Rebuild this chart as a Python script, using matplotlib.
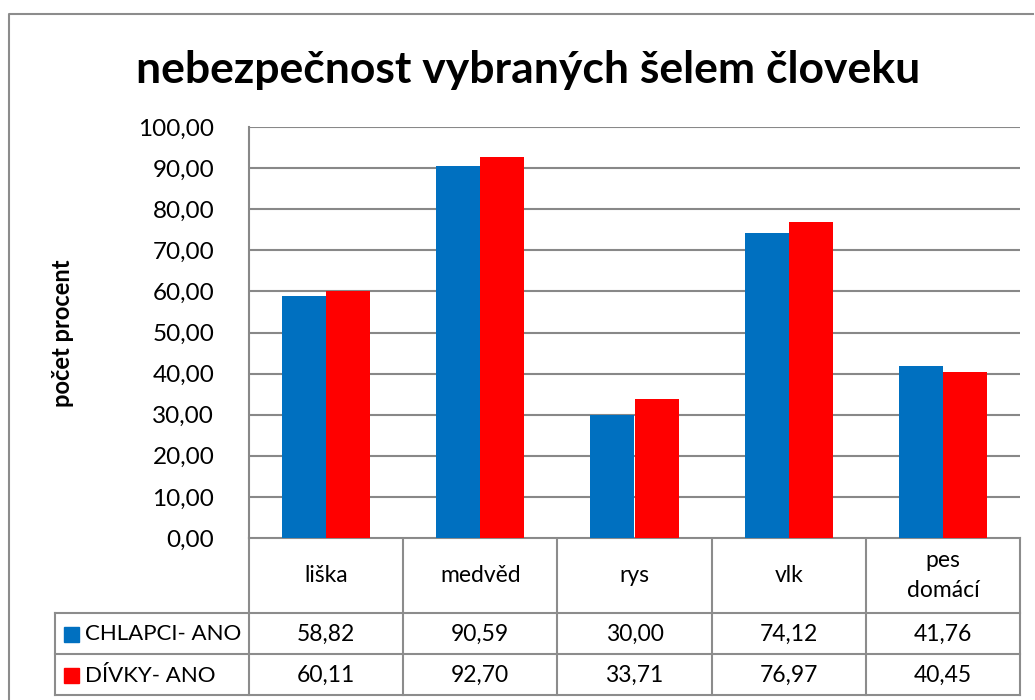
import numpy as np
import matplotlib
matplotlib.use('Agg')
import matplotlib.pyplot as plt

plt.rcParams['font.family'] = ['Lato', 'DejaVu Sans']

# Data
categories = ['liška', 'medvěd', 'rys', 'vlk', 'pes\ndomácí']
series_names = ['CHLAPCI- ANO', 'DÍVKY- ANO']
chlapci = [58.82, 90.59, 30.00, 74.12, 41.76]
divky = [60.11, 92.70, 33.71, 76.97, 40.45]
y_ticks = [0, 10, 20, 30, 40, 50, 60, 70, 80, 90, 100]

colors = ['#0070C0', '#FF0000']
grid_col = '#888888'

W, H = 1035, 700
fig = plt.figure(figsize=(W / 100, H / 100), dpi=100)

# overlay in pixel coordinates for border + table
bg = fig.add_axes([0, 0, 1, 1])
bg.set_xlim(0, W)
bg.set_ylim(H, 0)
bg.axis('off')

# chart border
bg.plot([9, 9, 1033], [H + 5, 14, 14], color='#8c8c8c', lw=1.5)

# plot area
px_left, px_right, px_top, px_bottom = 249, 1020, 127, 538
ax = fig.add_axes([px_left / W, 1 - px_bottom / H,
                   (px_right - px_left) / W, (px_bottom - px_top) / H])
x = np.arange(len(categories))
w = 0.286
ax.bar(x - w / 2, chlapci, w, color=colors[0], zorder=3)
ax.bar(x + w / 2, divky, w, color=colors[1], zorder=3)
ax.set_xlim(-0.5, len(categories) - 0.5)
ax.set_ylim(0, 100)
ax.set_yticks(y_ticks)
ax.set_yticklabels([f'{v:.2f}'.replace('.', ',') for v in y_ticks], fontsize=17.5)
ax.tick_params(axis='y', length=0, pad=25)
ax.set_xticks([])
ax.yaxis.grid(True, color=grid_col, lw=1.5, zorder=0)
for s in ['top', 'right', 'bottom']:
    ax.spines[s].set_visible(False)
ax.spines['left'].set_color(grid_col)
ax.spines['left'].set_linewidth(1.5)

# title and y label
fig.text(528 / W, 1 - 70 / H, 'nebezpečnost vybraných šelem človeku',
         fontsize=32, fontweight='bold', ha='center', va='center')
fig.text(62 / W, 1 - 333 / H, 'počet procent', fontsize=17, fontweight='bold',
         rotation=90, ha='center', va='center')

# data table
n = len(categories)
col_w = (px_right - px_left) / n
edges = [px_left + i * col_w for i in range(n + 1)]
row_y = [538, 613, 654, 695]
tab_left = 55
lc = '#8c8c8c'
lw = 1.5
# horizontal lines
bg.plot([px_left, px_right], [row_y[0], row_y[0]], color=lc, lw=lw)
for yy in row_y[1:]:
    bg.plot([tab_left, px_right], [yy, yy], color=lc, lw=lw)
# vertical lines
for xx in edges:
    bg.plot([xx, xx], [row_y[0], row_y[3]], color=lc, lw=lw)
bg.plot([tab_left, tab_left], [row_y[1], row_y[3]], color=lc, lw=lw)

fs = 16.5
for i, cat in enumerate(categories):
    cx = (edges[i] + edges[i + 1]) / 2
    bg.text(cx, (row_y[0] + row_y[1]) / 2, cat, fontsize=fs, ha='center',
            va='center', linespacing=1.55)
    for r, vals in enumerate([chlapci, divky]):
        bg.text(cx, (row_y[r + 1] + row_y[r + 2]) / 2 + 1,
                f'{vals[i]:.2f}'.replace('.', ','), fontsize=fs,
                ha='center', va='center')

# legend keys in the table
for r, name in enumerate(series_names):
    cy = (row_y[r + 1] + row_y[r + 2]) / 2
    bg.add_patch(plt.Rectangle((64, cy - 7), 15, 15, color=colors[r]))
    bg.text(85, cy + 1, name, fontsize=16, ha='left', va='center')

fig.savefig('out.png', dpi=100)
